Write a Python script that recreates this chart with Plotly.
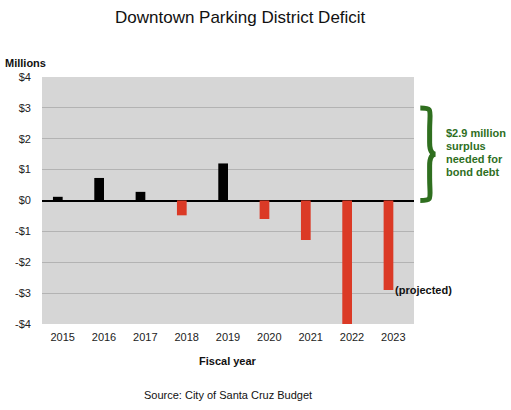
import plotly.graph_objects as go

years = ["2015", "2016", "2017", "2018", "2019", "2020", "2021", "2022", "2023"]
values = [0.12, 0.73, 0.28, -0.48, 1.2, -0.6, -1.28, -4.0, -2.9]
colors = ["#000000" if v > 0 else "#db3a26" for v in values]
tick_vals = [4, 3, 2, 1, 0, -1, -2, -3, -4]
tick_text = ["$4", "$3", "$2", "$1", "$0", "-$1", "-$2", "-$3", "-$4"]
surplus_needed = 2.9
note_lines = ["$2.9 million", "surplus", "needed for", "bond debt"]

FONT = "Liberation Sans, Arial, sans-serif"
GREEN = "#2f6f1f"

xpos = list(range(len(years)))

fig = go.Figure()
fig.add_trace(go.Bar(x=xpos, y=values, marker=dict(color=colors, line=dict(width=0)),
                     width=0.235, offset=-0.235, showlegend=False,
                     hovertext=years, hoverinfo="text+y"))

fig.update_layout(
    width=511, height=410,
    margin=dict(l=42, r=97, t=77, b=86),
    paper_bgcolor="white", plot_bgcolor="#d6d6d6",
    font=dict(family=FONT, size=11, color="#222"),
    title=dict(text="Downtown Parking District Deficit", xref="container", x=0.47,
               xanchor="center", y=0.958, yanchor="middle",
               font=dict(size=17, color="#111")),
    xaxis=dict(range=[-0.5, len(years) - 0.5], tickvals=xpos, ticktext=years,
               showgrid=False, ticks="", showline=False, zeroline=False,
               ticklabelstandoff=5, tickfont=dict(size=11, color="#222")),
    yaxis=dict(range=[-4, 4], tickvals=tick_vals, ticktext=tick_text,
               showgrid=True, gridcolor="#b3b3b3", gridwidth=1, zeroline=True,
               zerolinecolor="#000000", zerolinewidth=2, ticks="",
               ticklabelstandoff=10, tickfont=dict(size=11, color="#222")),
)

# Axis titles and notes
fig.add_annotation(text="<b>Millions</b>", xref="paper", yref="paper", x=-0.105, y=1.0,
                   xanchor="left", yanchor="bottom", yshift=6, showarrow=False,
                   font=dict(size=11, color="#111"))
fig.add_annotation(text="<b>Fiscal year</b>", xref="paper", yref="paper", x=0.5, y=0,
                   xanchor="center", yanchor="middle", yshift=-37, showarrow=False,
                   font=dict(size=11, color="#111"))
fig.add_annotation(text="Source: City of Santa Cruz Budget", xref="paper", yref="paper",
                   x=0.5, y=0, xanchor="center", yanchor="middle", yshift=-71,
                   showarrow=False, font=dict(size=11, color="#111"))
fig.add_annotation(text="<b>(projected)</b>", x=xpos[-1], y=values[-1], xanchor="left",
                   yanchor="middle", xshift=0, showarrow=False,
                   font=dict(size=11, color="#111"))

# Green brace marking the surplus needed
x0, xm, x1 = 1.017, 1.042, 1.058
top, bot = surplus_needed + 0.1, 0.0
mid = (top + bot) / 2
q = (top - bot) / 4
path = (f"M {x0},{top} C {x0+0.035},{top} {xm},{top-0.05} {xm},{top-q} "
        f"L {xm},{mid+q*0.5} C {xm},{mid+0.1} {xm+0.005},{mid} {x1},{mid} "
        f"C {xm+0.005},{mid} {xm},{mid-0.1} {xm},{mid-q*0.5} "
        f"L {xm},{bot+q} C {xm},{bot+0.05} {x0+0.035},{bot} {x0},{bot}")
fig.add_shape(type="path", path=path, xref="paper", yref="y",
              line=dict(color=GREEN, width=5))
for i, line in enumerate(note_lines):
    fig.add_annotation(text=f"<b>{line}</b>", xref="paper", yref="y", x=1.08, y=mid,
                       xanchor="left", yanchor="middle", align="left",
                       yshift=(1.5 - i) * 13 + 2, showarrow=False,
                       font=dict(size=11, color=GREEN))

fig.write_html("out.html", config={"displayModeBar": False},
               post_script="document.body.style.margin='0';")
